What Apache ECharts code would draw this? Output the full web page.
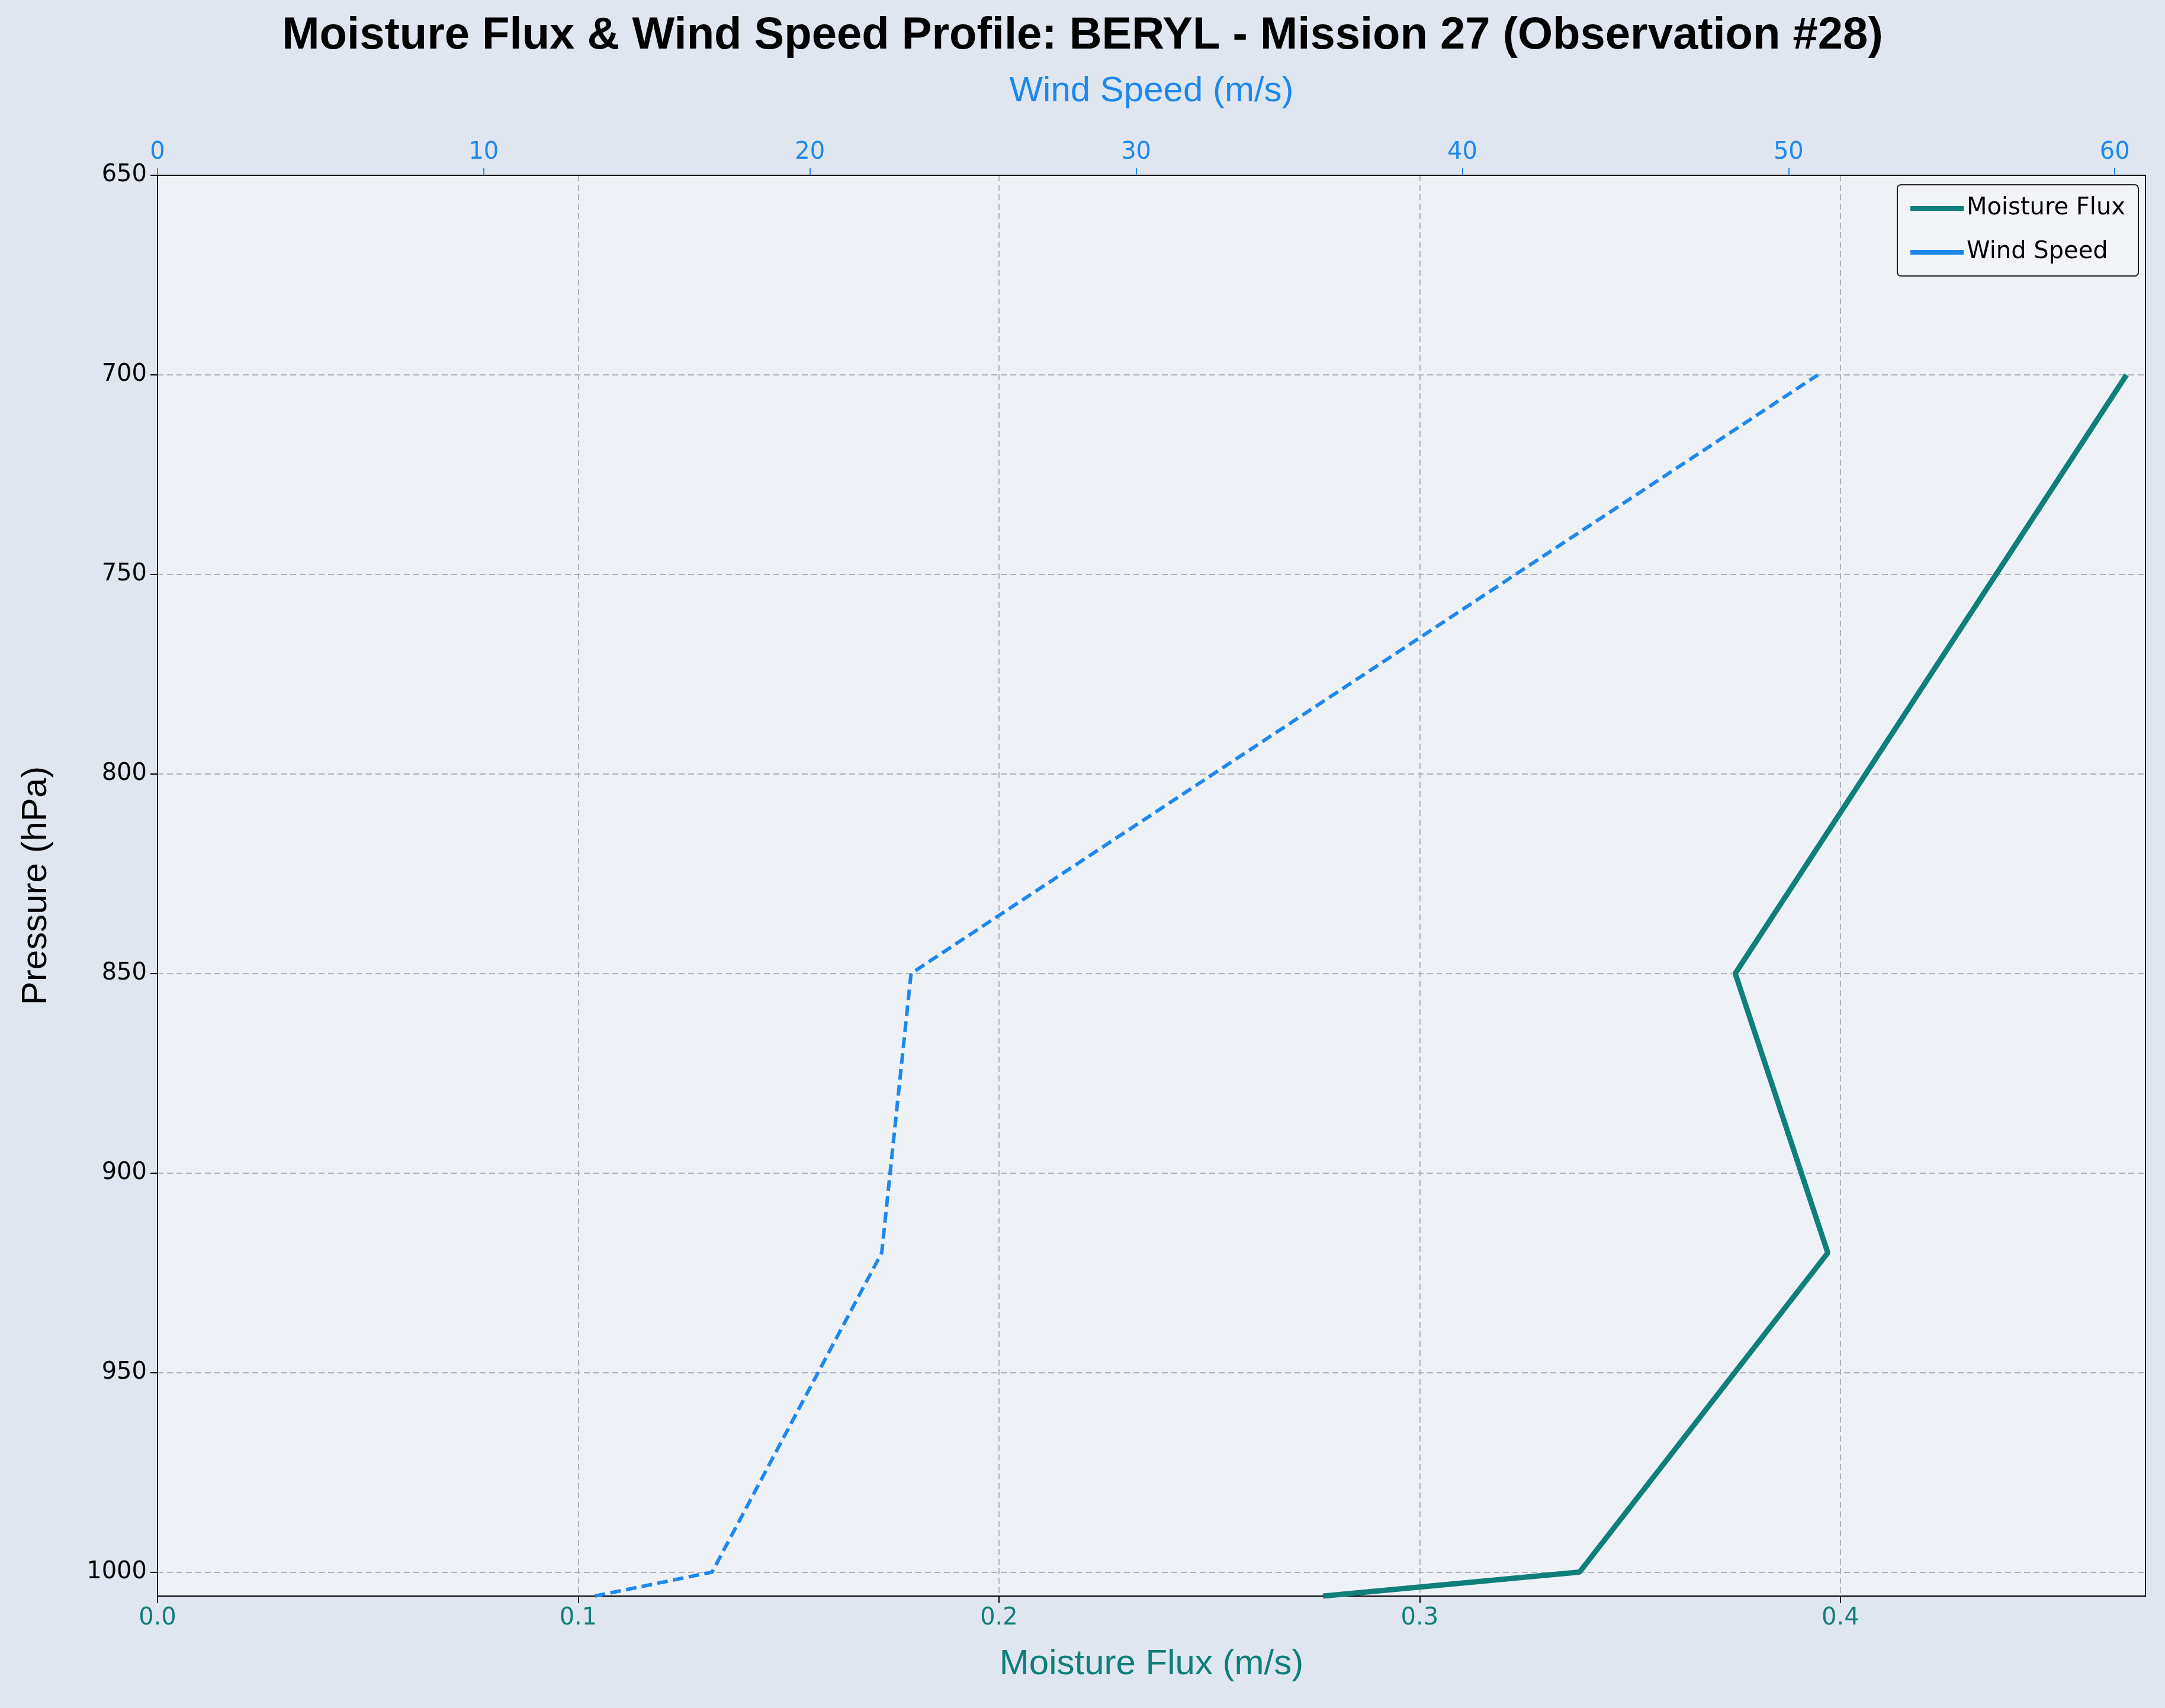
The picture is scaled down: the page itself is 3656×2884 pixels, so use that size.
<!DOCTYPE html>
<html><head><meta charset="utf-8">
<script src="https://cdn.jsdelivr.net/npm/echarts@6/dist/echarts.min.js"></script>
<style>html,body{margin:0;padding:0;background:#e0e6ef}#c{width:3656px;height:2884px}</style>
</head><body><div id="c"></div>
<script>
// pressure levels (hPa), surface first
const pressure = [1006, 1000, 920, 850, 700];
const moistureFlux = [0.277, 0.338, 0.397, 0.375, 0.468];
const windSpeed = [13.4, 17.0, 22.2, 23.1, 50.9];

const chart = echarts.init(document.getElementById('c'));
const font = 'DejaVu Sans';
const gridLine = {show: true, showMinLine: false, showMaxLine: false,
  lineStyle: {color: '#b0b4ba', type: [10, 6], width: 2}};

chart.setOption({
  backgroundColor: '#e0e6ef',
  textStyle: {fontFamily: font},
  title: {
    text: 'Moisture Flux & Wind Speed Profile: BERYL - Mission 27 (Observation #28)',
    left: 'center', top: 18,
    textStyle: {fontSize: 76, fontWeight: 'bold', color: '#000', fontFamily: 'Liberation Sans'}
  },
  legend: {
    right: 45, top: 312, orient: 'vertical', icon: 'rect',
    backgroundColor: '#f2f4f7', borderColor: '#222', borderWidth: 2, borderRadius: 6,
    padding: [20, 22], itemWidth: 90, itemHeight: 8, itemGap: 34,
    textStyle: {fontSize: 40, color: '#000'},
    data: ['Moisture Flux', 'Wind Speed']
  },
  grid: {left: 266, right: 33, top: 296, bottom: 189, show: true,
    backgroundColor: '#eef2f7', borderColor: '#000', borderWidth: 2},
  xAxis: [{
    type: 'value', position: 'bottom', min: 0, max: 0.4725, interval: 0.1,
    name: 'Moisture Flux (m/s)', nameLocation: 'middle', nameGap: 85,
    nameTextStyle: {fontSize: 60, color: '#0f7f7a', fontFamily: 'Liberation Sans'},
    axisLine: {show: true, lineStyle: {color: '#000', width: 2}},
    axisTick: {show: true, length: 12, lineStyle: {color: '#000', width: 2}},
    axisLabel: {fontSize: 40, color: '#0f7f7a', margin: 18, showMaxLabel: false,
      formatter: v => v.toFixed(1)},
    splitLine: gridLine
  }, {
    type: 'value', position: 'top', min: 0, max: 60.94, interval: 10,
    name: 'Wind Speed (m/s)', nameLocation: 'middle', nameGap: 112,
    nameTextStyle: {fontSize: 60, color: '#1e88ee', fontFamily: 'Liberation Sans'},
    axisLine: {show: true, lineStyle: {color: '#000', width: 2}},
    axisTick: {show: true, length: 12, lineStyle: {color: '#1e88ee', width: 2}},
    axisLabel: {fontSize: 40, color: '#1e88ee', margin: 18, showMaxLabel: false},
    splitLine: {show: false}
  }],
  yAxis: {
    type: 'value', inverse: true, min: 650, max: 1006, interval: 50,
    name: 'Pressure (hPa)', nameLocation: 'middle', nameGap: 175,
    nameTextStyle: {fontSize: 60, color: '#000', fontFamily: 'Liberation Sans'},
    axisLine: {show: true, lineStyle: {color: '#000', width: 2}},
    axisTick: {show: true, length: 12, lineStyle: {color: '#000', width: 2}},
    axisLabel: {fontSize: 40, color: '#000', margin: 18, showMaxLabel: false,
      formatter: v => String(v)},
    splitLine: gridLine
  },
  series: [{
    name: 'Moisture Flux', type: 'line', xAxisIndex: 0, symbol: 'none',
    color: '#0f7f7a', lineStyle: {width: 9, color: '#0f7f7a'},
    data: pressure.map((p, i) => [moistureFlux[i], p])
  }, {
    name: 'Wind Speed', type: 'line', xAxisIndex: 1, symbol: 'none',
    color: '#1e88ee', lineStyle: {width: 6, color: '#1e88ee', type: [18, 9]},
    data: pressure.map((p, i) => [windSpeed[i], p])
  }]
});
</script></body></html>
